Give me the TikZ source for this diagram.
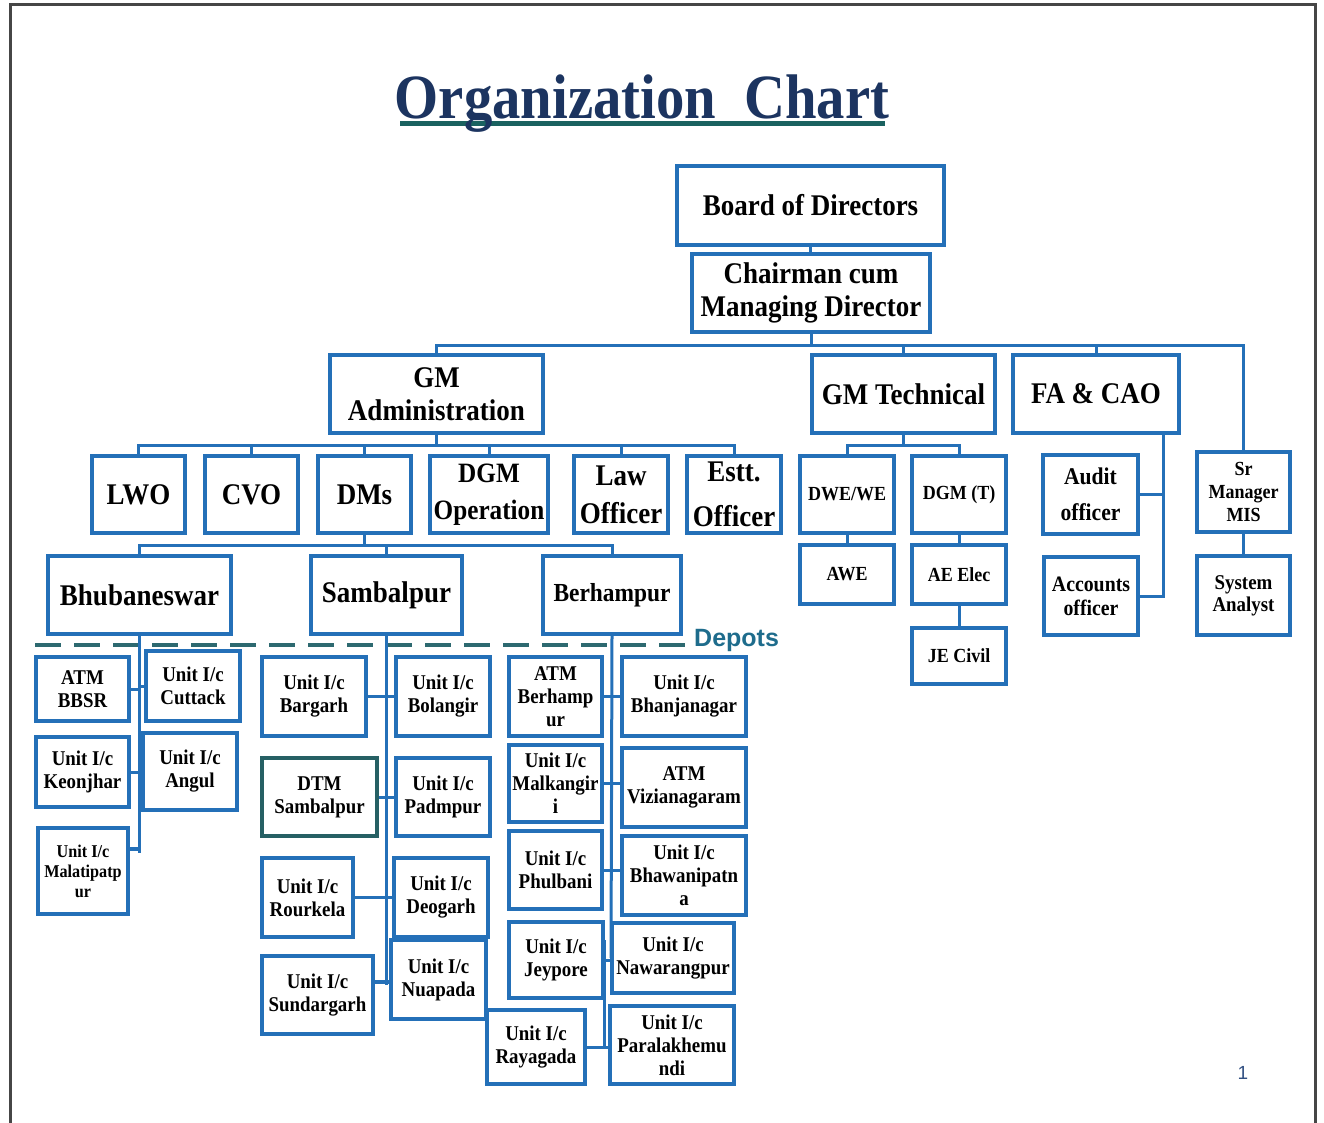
\documentclass[tikz,border=0pt]{standalone}
\usepackage{fontspec}
\setmainfont{Liberation Serif}[FakeStretch=0.9]
\newfontfamily\arialfont{Liberation Sans}
\definecolor{boxblue}{RGB}{36,112,184}
\definecolor{dtmteal}{RGB}{38,96,100}
\definecolor{titlenavy}{RGB}{28,52,96}
\definecolor{ulteal}{RGB}{26,98,96}
\definecolor{dashteal}{RGB}{45,105,112}
\definecolor{depotblue}{RGB}{30,108,140}
\definecolor{framegray}{RGB}{70,70,70}
\definecolor{pagenum}{RGB}{50,80,130}
\tikzset{
org/.style={x=1pt,y=-1pt},
box/.style={draw=boxblue,line width=3.5pt,fill=white,align=center,
    inner sep=1pt,text=black},
sz/.style 2 args={minimum width=#1pt,minimum height=#2pt},
big/.style={box,font=\bfseries\fontsize{30}{33}\selectfont},
small/.style={box,font=\bfseries\fontsize{20}{23}\selectfont},
depot/.style={box,font=\bfseries\fontsize{21}{23}\selectfont},
link/.style={draw=boxblue,line width=3pt},
dashline/.style={draw=dashteal,line width=4pt,dash pattern=on 26pt off 13pt},
}

\begin{document}
\begin{tikzpicture}[org]
    \useasboundingbox (0,0) rectangle (1324,1123);
    \draw[framegray,line width=3pt] (10,1123) -- (10,5) -- (1315,5) -- (1315,1123);

    \fill[ulteal] (400,121) rectangle (885,126);
    \node[font=\bfseries\fontsize{63}{70}\selectfont,text=titlenavy,inner sep=0pt,
        anchor=base] (ttl) at (642,119) {Organization~~Chart};

    \node[big,sz={267}{79}] (bod) at (810.5,205.5) {Board of Directors};
    \node[big,sz={238}{78}] (cmd) at (811,293) {Chairman cum\\Managing Director};
    \node[big,sz={213}{78}] (gmadm) at (436.5,394) {GM\\Administration};
    \node[big,sz={183}{78}] (gmtech) at (903.5,394) {GM Technical};
    \node[big,sz={166}{78}] (fa) at (1096,394) {FA \& CAO};
    \node[small,sz={93}{80}] (mis) at (1243.5,492) {Sr\\Manager\\MIS};

    \node[big,sz={93}{77}] (lwo) at (138.5,494.5) {LWO};
    \node[big,sz={93}{77}] (cvo) at (251.5,494.5) {CVO};
    \node[big,sz={93}{77}] (dms) at (364.5,494.5) {DMs};
    \node[big,sz={118}{77},inner sep=0pt,font=\bfseries\fontsize{28}{33}\selectfont]
        (dgmop) at (489,494.5) {DGM\\[4pt]Operation};
    \node[big,sz={94}{77}] (law) at (621,494.5) {Law\\[5pt]Officer};
    \node[big,sz={94}{77}] (estt) at (734,494.5) {Estt.\\[12pt]Officer};

    \node[small,sz={94}{77}] (dwe) at (847,494.5) {DWE/WE};
    \node[small,sz={94}{77}] (dgmt) at (959,494.5) {DGM (T)};
    \node[small,sz={94}{59}] (awe) at (847,574.5) {AWE};
    \node[small,sz={94}{59}] (aee) at (959,574.5) {AE Elec};
    \node[small,sz={94}{56}] (jec) at (959,656) {JE Civil};
    \node[box,sz={95}{79},font=\bfseries\fontsize{24}{36}\selectfont]
        (audit) at (1090.5,494.5) {Audit\\officer};
    \node[box,sz={94}{78},font=\bfseries\fontsize{22}{24}\selectfont]
        (acct) at (1091,596) {Accounts\\officer};
    \node[box,sz={93}{79},font=\bfseries\fontsize{21}{22}\selectfont]
        (sysan) at (1243.5,595.5) {System\\Analyst};

    \node[big,sz={183}{78}] (bbsr) at (139.5,595) {Bhubaneswar};
    \node[big,sz={151}{78}] (sbp) at (386.5,595) {Sambalpur};
    \node[big,sz={138}{78},font=\bfseries\fontsize{26}{30}\selectfont]
        (bam) at (612,595) {Berhampur};

    \node[depot,sz={93}{64}] (atmbbsr) at (82.5,689) {ATM\\BBSR};
    \node[depot,sz={94}{70}] (cuttack) at (193,686) {Unit I/c\\Cuttack};
    \node[depot,sz={93}{70}] (keonjhar) at (82.5,772) {Unit I/c\\Keonjhar};
    \node[depot,sz={94}{77}] (angul) at (190,771.5) {Unit I/c\\Angul};
    \node[depot,sz={90}{86},font=\bfseries\fontsize{18}{20}\selectfont]
        (malati) at (83,871) {Unit I/c\\Malatipatp\\ur};

    \node[depot,sz={104}{79}] (bargarh) at (314,696.5) {Unit I/c\\Bargarh};
    \node[depot,sz={94}{79}] (bolangir) at (443,696.5) {Unit I/c\\Bolangir};
    \node[depot,draw=dtmteal,sz={115}{78}] (dtm) at (319.5,797) {DTM\\Sambalpur};
    \node[depot,sz={94}{78}] (padmpur) at (443,797) {Unit I/c\\Padmpur};
    \node[depot,sz={91}{79}] (rourkela) at (307.5,897.5) {Unit I/c\\Rourkela};
    \node[depot,sz={94}{79}] (deogarh) at (441,897.5) {Unit I/c\\Deogarh};
    \node[depot,sz={111}{78}] (sundargarh) at (317.5,995) {Unit I/c\\Sundargarh};
    \node[depot,sz={95}{79}] (nuapada) at (438.5,979.5) {Unit I/c\\Nuapada};

    \node[depot,sz={93}{79}] (atmbam) at (555.5,696.5) {ATM\\Berhamp\\ur};
    \node[depot,sz={124}{79}] (bhanja) at (684,696.5) {Unit I/c\\Bhanjanagar};
    \node[depot,sz={93}{77}] (malkan) at (555.5,783.5) {Unit I/c\\Malkangir\\i};
    \node[depot,sz={124}{79}] (vizia) at (684,787.5) {ATM\\Vizianagaram};
    \node[depot,sz={93}{78}] (phulbani) at (555.5,870) {Unit I/c\\Phulbani};
    \node[depot,sz={124}{79}] (bhawani) at (684,875.5) {Unit I/c\\Bhawanipatn\\a};
    \node[depot,sz={94}{76}] (jeypore) at (556,960) {Unit I/c\\Jeypore};
    \node[depot,sz={122}{70}] (nawarang) at (673,958) {Unit I/c\\Nawarangpur};
    \node[depot,sz={98}{74}] (rayagada) at (536,1047) {Unit I/c\\Rayagada};
    \node[depot,sz={124}{78}] (parala) at (672,1045) {Unit I/c\\Paralakhemu\\ndi};

    \node[font=\arialfont\bfseries\fontsize{25}{28}\selectfont,text=depotblue,inner sep=0pt,
        anchor=west] (dep) at (694,640) {Depots};
    \node[font=\arialfont\fontsize{19}{21}\selectfont,text=pagenum] (pg) at (1243,1073) {1};

    \coordinate (dstart) at (35,645);
    \draw[dashline] (dstart) -- (dstart -| dep.west);

    \coordinate (cbar) at (811,345);
    \coordinate (abar) at (436.5,445);
    \coordinate (tbar) at (903.5,445);
    \coordinate (dbar) at (364.5,545);
    \coordinate (fend) at (1163,596);
    \coordinate (bend) at (139.5,853);
    \coordinate (send) at (386.5,985);
    \coordinate (bmid) at (611,958);

    \draw[link] (bod.south) -- (bod.south |- cmd.north);
    \draw[link] (cmd.south) -- (cbar);
    \draw[link] (gmadm.north) |- (cbar) -| (mis.north);
    \draw[link] (gmtech.north) -- (gmtech.north |- cbar);
    \draw[link] (fa.north) -- (fa.north |- cbar);

    \draw[link] (gmadm.south) -- (abar);
    \draw[link] (lwo.north) |- (abar) -| (estt.north);
    \foreach \n in {cvo,dms,dgmop,law}
        \draw[link] (\n.north) -- (\n.north |- abar);

    \draw[link] (gmtech.south) -- (tbar);
    \draw[link] (dwe.north) |- (tbar) -| (dgmt.north);
    \draw[link] (dwe.south) -- (awe.north);
    \draw[link] (dgmt.south) -- (aee.north);
    \draw[link] (aee.south) -- (jec.north);
    \draw[link] (fend |- fa.south) -- (fend) -- (acct.east);
    \draw[link] (audit.east) -- (audit.east -| fend);
    \draw[link] (mis.south) -- (sysan.north);

    \draw[link] (dms.south) -- (dbar);
    \draw[link] (bbsr.north) |- (dbar) -| (bam.north);
    \draw[link] (sbp.north) -- (sbp.north |- dbar);

    \draw[link] (bbsr.south) -- (bend);
    \foreach \n in {atmbbsr,keonjhar}
        \draw[link] (\n.east) -- (\n.east -| bend);
    \foreach \n in {cuttack,angul}
        \draw[link] (\n.west) -- (\n.west -| bend);
    \draw[link,line width=4.5pt] ([yshift=22pt]malati.east) -- ([yshift=22pt]malati.east -| bend);

    \draw[link] (sbp.south) -- (send);
    \draw[link] (bargarh.east) -- (bolangir.west);
    \draw[link] (dtm.east) -- (padmpur.west);
    \draw[link] (rourkela.east) -- (rourkela.east -| send);
    \draw[link] (deogarh.west) -- (deogarh.west -| send);
    \draw[link,line width=4.5pt] ([yshift=13pt]sundargarh.east) -- ([yshift=13pt]sundargarh.east -| nuapada.west);

    \draw[link] (bam.south) -- (bmid);
    \draw[link] (atmbam.east) -- (bhanja.west);
    \draw[link] (malkan.east) -- (malkan.east -| vizia.west);
    \draw[link] (phulbani.east) -- (phulbani.east -| bhawani.west);
    \draw[link] (jeypore.east) -- (jeypore.east -| nawarang.west);
    \draw[link] ([yshift=-20pt]jeypore.north east) -- (jeypore.east |- rayagada.east);
    \draw[link] (rayagada.east) -- (rayagada.east -| parala.west);
\end{tikzpicture}
\end{document}
